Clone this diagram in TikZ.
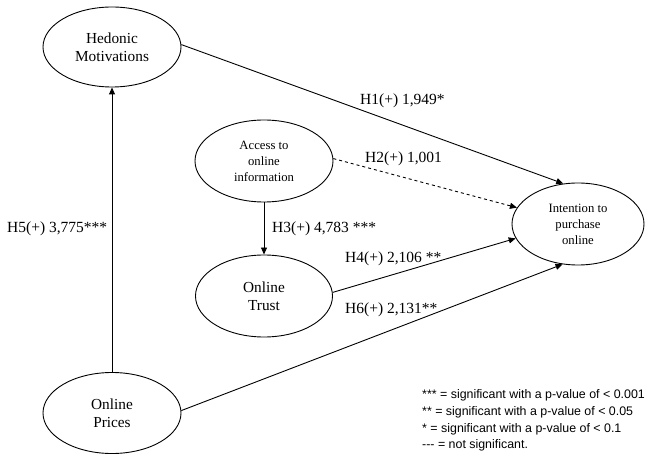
\documentclass[tikz,border=0pt]{standalone}
\usepackage{fontspec}
\setmainfont{Liberation Serif}
\newfontfamily\legendfont{Liberation Sans}
\usetikzlibrary{shapes.geometric,arrows.meta}
\tikzset{
  construct/.style={ellipse, draw, line width=0.9pt, inner sep=0pt, align=center},
  bigtext/.style={font=\fontsize{15.3}{18}\selectfont},
  smalltext/.style={font=\fontsize{12.7}{16}\selectfont},
  path/.style={line width=0.9pt, -{Triangle[length=7pt,width=6pt]}},
  lbl/.style={anchor=base west, font=\fontsize{15.5}{18}\selectfont, inner sep=0pt},
  legline/.style={anchor=base west, inner sep=0pt, font=\legendfont\fontsize{12.4}{15}\selectfont},
}
\begin{document}
\begin{tikzpicture}[x=1pt,y=1pt]
\useasboundingbox (0,0) rectangle (645,-454);
\node[construct, bigtext, minimum width=138pt, minimum height=80pt] (hed) at (112,-47) {Hedonic\\Motivations};
\node[construct, smalltext, minimum width=138pt, minimum height=82pt] (acc) at (264,-161) {Access to\\online\\information};
\node[construct, bigtext, minimum width=137pt, minimum height=82pt] (tru) at (264,-296) {Online\\Trust};
\node[construct, bigtext, minimum width=138pt, minimum height=81pt] (pri) at (112,-413) {Online\\Prices};
\node[construct, smalltext, minimum width=132pt, minimum height=82pt] (int) at (578,-224) {Intention to\\purchase\\online};

\draw[path] (pri.north) -- (hed.south);
\draw[path] (hed.2) -- (int.110);
\draw[path, dashed] (acc.2) -- (int.165);
\draw[path] (acc.south) -- (tru.north);
\draw[path] (tru.3) -- (int.193);
\draw[path] (pri.2) -- (int.249);

\node[lbl] (l1) at (360,-105) {H1(+) 1,949*};
\node[lbl] (l2) at (365,-163) {H2(+) 1,001};
\node[lbl] (l3) at (272,-233) {H3(+) 4,783 ***};
\node[lbl] (l4) at (345,-263) {H4(+) 2,106 **};
\node[lbl] (l6) at (345,-313) {H6(+) 2,131**};
\node[lbl] (l5) at (7,-233) {H5(+) 3,775***};

\node[legline] (g1) at (422,-398) {*** = significant with a p-value of < 0.001};
\node[legline] (g2) at (422,-415) {** = significant with a p-value of < 0.05};
\node[legline] (g3) at (422,-432) {* = significant with a p-value of < 0.1};
\node[legline] (g4) at (422,-448.5) {--{}- = not significant.};
\end{tikzpicture}
\end{document}
